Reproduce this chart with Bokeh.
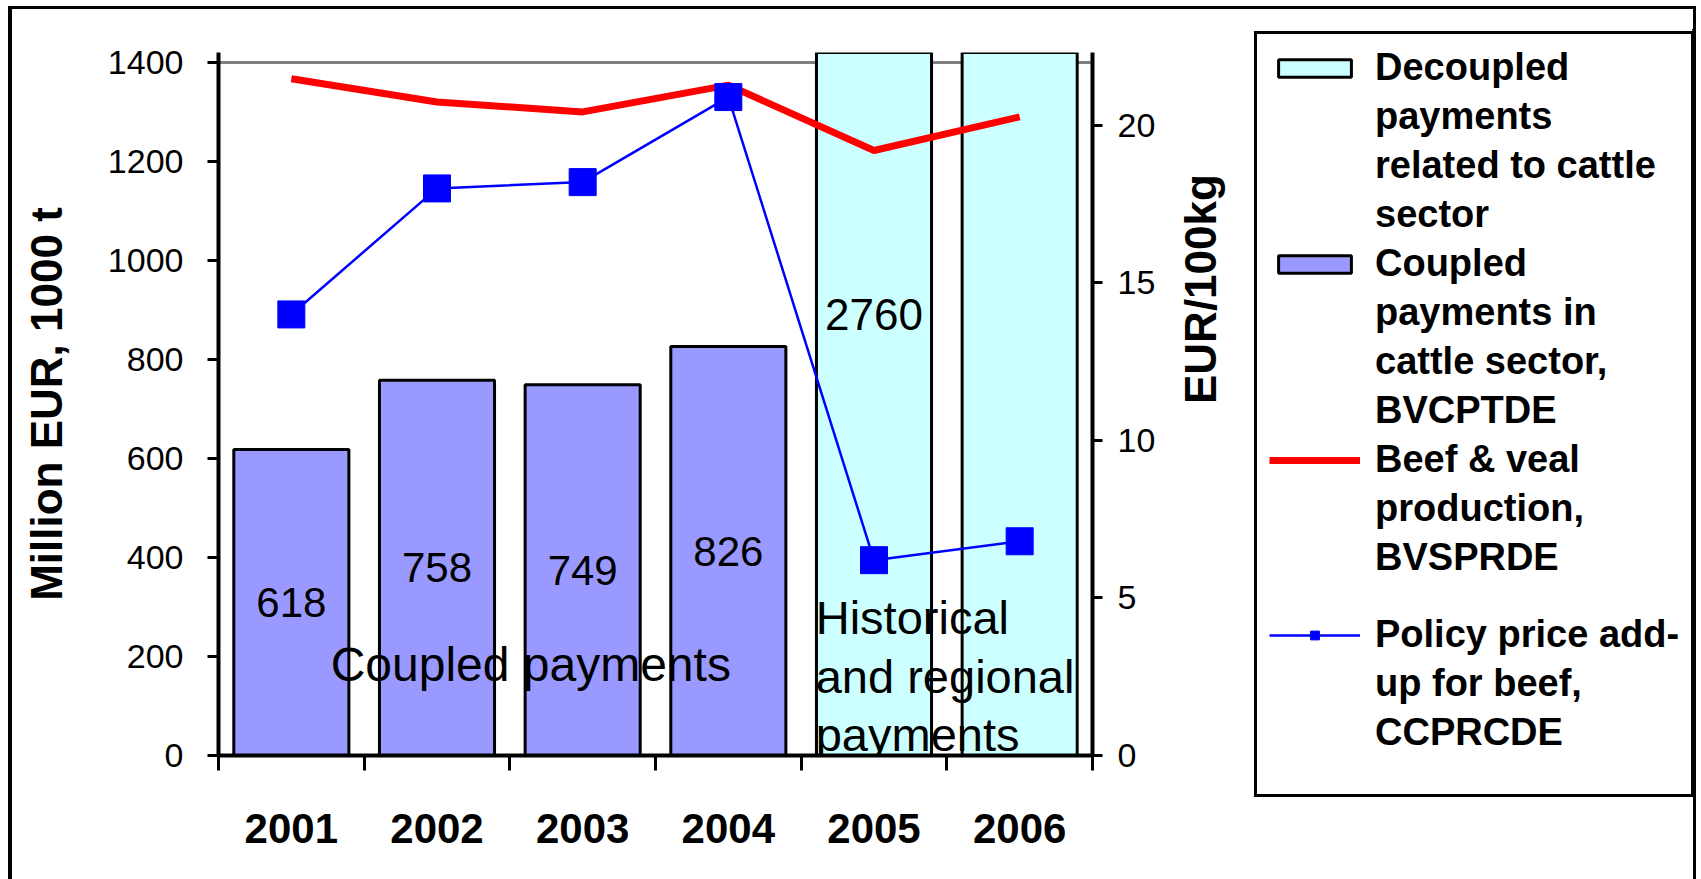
import math
from bokeh.plotting import figure
from bokeh.layouts import row
from bokeh.models import (Range1d, LinearAxis, FixedTicker,
                          ColumnDataSource, Legend, LegendItem)
from bokeh.core.properties import value
from bokeh.embed import file_html
from bokeh.resources import INLINE

# ---------------- data ----------------
years = ["2001", "2002", "2003", "2004", "2005", "2006"]
coupled_payments = [618, 758, 749, 826, None, None]          # Million EUR
decoupled_payments = [None, None, None, None, 2760, 2760]    # Million EUR
beef_veal_production = [1367, 1320, 1300, 1354, 1222, 1290]  # 1000 t
policy_price_addup = [14.0, 18.0, 18.2, 20.9, 6.2, 6.8]      # EUR/100kg
left_ticks = [0, 200, 400, 600, 800, 1000, 1200, 1400]
right_ticks = [0, 5, 10, 15, 20]

legend_lines = [
    ["Decoupled", "payments", "related to cattle", "sector"],
    ["Coupled", "payments in", "cattle sector,", "BVCPTDE"],
    ["Beef & veal", "production,", "BVSPRDE", " "],
    ["Policy price add-", "up for beef,", "CCPRCDE", " "],
]
note_coupled = "Coupled payments"
note_decoupled = "Historical\nand regional\npayments"

# ---------------- layout / style constants ----------------
FONT = "Liberation Sans"
LEFT_MAX = 1400
RIGHT_MAX = 22
Y_TOP = 1420
R_TOP = RIGHT_MAX * Y_TOP / LEFT_MAX
BAR_W = 0.79
DECOUPLED_LABEL_Y = 890
NOTE1_POS = (0.77, 184)
NOTE2_POS = (4.10, 160)
H = 870

n = len(years)
xc = [i + 0.5 for i in range(n)]  # category centres on the linear x scale

BAR_D = dict(fill_color="#CCFFFF", line_color="black", line_width=3)
BAR_C = dict(fill_color="#9999FF", line_color="black", line_width=3)
RED = dict(line_color="#FF0000", line_width=7)
BLUE = dict(line_color="#0000FF", line_width=2.5)
BLUE_M = dict(marker="square", size=27, fill_color="#0000FF", line_color="#0000FF")

p = figure(width=1240, height=H,
           x_range=Range1d(0, n), y_range=Range1d(0, Y_TOP),
           x_axis_location=None,
           output_backend="svg", toolbar_location=None,
           min_border_left=206, min_border_right=160,
           min_border_top=43, min_border_bottom=124)
p.outline_line_color = None
p.background_fill_color = "white"
p.border_fill_color = "white"
p.extra_y_ranges = {"right": Range1d(0, R_TOP)}

# grid: only the top line
p.xgrid.visible = False
p.ygrid.ticker = FixedTicker(ticks=[LEFT_MAX])
p.ygrid.grid_line_color = "#808080"
p.ygrid.grid_line_width = 3

# left axis
ya = p.yaxis[0]
ya.ticker = FixedTicker(ticks=left_ticks)
ya.axis_line_width = 4
ya.major_tick_line_width = 3
ya.major_tick_out = 11
ya.major_tick_in = 0
ya.minor_tick_line_color = None
ya.major_label_text_font = FONT
ya.major_label_text_color = "black"
ya.major_label_text_font_size = "34px"
ya.major_label_standoff = 24
ya.axis_label = "Million EUR, 1000 t"
ya.axis_label_text_font = FONT
ya.axis_label_text_color = "black"
ya.axis_label_text_font_style = "bold"
ya.axis_label_text_font_size = "44px"
ya.axis_label_standoff = 34

# right axis
ra = LinearAxis(y_range_name="right", ticker=FixedTicker(ticks=right_ticks),
                axis_line_width=4, major_tick_line_width=3, major_tick_out=10,
                major_tick_in=0, minor_tick_line_color=None,
                major_label_text_font=FONT, major_label_text_font_size="34px",
                major_label_text_color="black", major_label_standoff=15,
                axis_label="EUR/100kg", axis_label_text_font=FONT,
                axis_label_text_color="black",
                axis_label_text_font_style="bold", axis_label_text_font_size="44px",
                axis_label_standoff=42, axis_label_orientation=math.pi / 2)
p.add_layout(ra, "right")

# x axis: boundary ticks + category labels
xt = LinearAxis(ticker=FixedTicker(ticks=list(range(n + 1))),
                axis_line_width=4, major_tick_line_width=3, major_tick_out=15,
                major_tick_in=0, minor_tick_line_color=None,
                major_label_text_font_size="0px", major_label_standoff=0)
p.add_layout(xt, "below")
xl = LinearAxis(ticker=FixedTicker(ticks=xc),
                major_label_overrides={c: y for c, y in zip(xc, years)},
                axis_line_color=None, major_tick_line_color=None,
                minor_tick_line_color=None, major_tick_out=0, major_tick_in=0,
                major_label_text_font=FONT, major_label_text_font_style="bold",
                major_label_text_color="black",
                major_label_text_font_size="42px", major_label_standoff=43)
p.add_layout(xl, "below")

# bars
c_idx = [i for i, v in enumerate(coupled_payments) if v is not None]
d_idx = [i for i, v in enumerate(decoupled_payments) if v is not None]
src_c = ColumnDataSource(dict(x=[xc[i] for i in c_idx],
                              top=[coupled_payments[i] for i in c_idx]))
src_d = ColumnDataSource(dict(x=[xc[i] for i in d_idx],
                              top=[decoupled_payments[i] for i in d_idx]))
src_l = ColumnDataSource(dict(x=xc, beef=beef_veal_production, price=policy_price_addup))
p.vbar(x="x", top="top", width=BAR_W, source=src_d, **BAR_D)
p.vbar(x="x", top="top", width=BAR_W, source=src_c, **BAR_C)
p.line("x", "beef", source=src_l, **RED)
p.line("x", "price", source=src_l, y_range_name="right", **BLUE)
p.scatter("x", "price", source=src_l, y_range_name="right", **BLUE_M)

# bar value labels
p.text(x=[xc[i] for i in c_idx], y=[coupled_payments[i] / 2 for i in c_idx],
       text=[str(coupled_payments[i]) for i in c_idx],
       text_font=value(FONT), text_font_size="42px", text_color="black",
       text_align="center", text_baseline="middle")
p.text(x=[xc[d_idx[0]]], y=[DECOUPLED_LABEL_Y], text=[str(decoupled_payments[d_idx[0]])],
       text_font=value(FONT), text_font_size="44px", text_color="black",
       text_align="center", text_baseline="middle")

# notes
p.text(x=[NOTE1_POS[0]], y=[NOTE1_POS[1]], text=[note_coupled],
       text_font=value(FONT), text_font_size="48px", text_color="black",
       text_align="left", text_baseline="middle")
p.text(x=[NOTE2_POS[0]], y=[NOTE2_POS[1]], text=[note_decoupled],
       text_font=value(FONT), text_font_size="47px", text_color="black",
       text_align="left", text_baseline="middle", text_line_height=1.1)

# ---------------- legend panel (own figure; its glyphs fall outside its ranges) ----------------
q = figure(width=441, height=H, x_range=Range1d(-3, -2), y_range=Range1d(-3, -2),
           x_axis_location=None, y_axis_location=None,
           output_backend="svg", toolbar_location=None,
           min_border_left=0, min_border_right=0, min_border_top=20, min_border_bottom=0)
q.outline_line_color = None
q.xgrid.visible = False
q.ygrid.visible = False
q.background_fill_color = "white"
q.border_fill_color = "white"
for fig in (p, q):
    if "frame_align" in fig.properties():
        fig.frame_align = False

lg_d = q.vbar(x="x", top="top", width=BAR_W, source=src_d, **BAR_D)
lg_c = q.vbar(x="x", top="top", width=BAR_W, source=src_c, **BAR_C)
lg_r = q.line("x", "beef", source=src_l, **RED)
lg_b = q.line("x", "price", source=src_l, **BLUE)
lg_m = q.scatter("x", "price", source=src_l, **BLUE_M)
lg_blank = q.scatter(x=[], y=[], size=0)

entry_renderers = [[lg_d], [lg_c], [lg_r], [lg_b, lg_m]]
items = []
for lines, rends in zip(legend_lines, entry_renderers):
    for k, line in enumerate(lines):
        items.append(LegendItem(label=line, renderers=rends if k == 0 else [lg_blank]))

legend = Legend(items=items, location="top_left")
legend.margin = 2
legend.label_text_font = FONT
legend.label_text_color = "black"
legend.label_text_font_style = "bold"
legend.label_text_font_size = "38px"
legend.glyph_width = 91
legend.glyph_height = 22
legend.padding = 12
legend.spacing = 6
legend.label_standoff = 15
legend.border_line_color = "black"
legend.border_line_alpha = 1
legend.border_line_width = 3
legend.background_fill_color = "white"
legend.background_fill_alpha = 1
q.add_layout(legend)

layout = row(p, q, margin=(6, 0, 0, 8),
             styles={"border-top": "3px solid black", "border-left": "4px solid black",
                     "border-right": "3px solid black"})

open("out.html", "w").write(file_html(layout, INLINE))
